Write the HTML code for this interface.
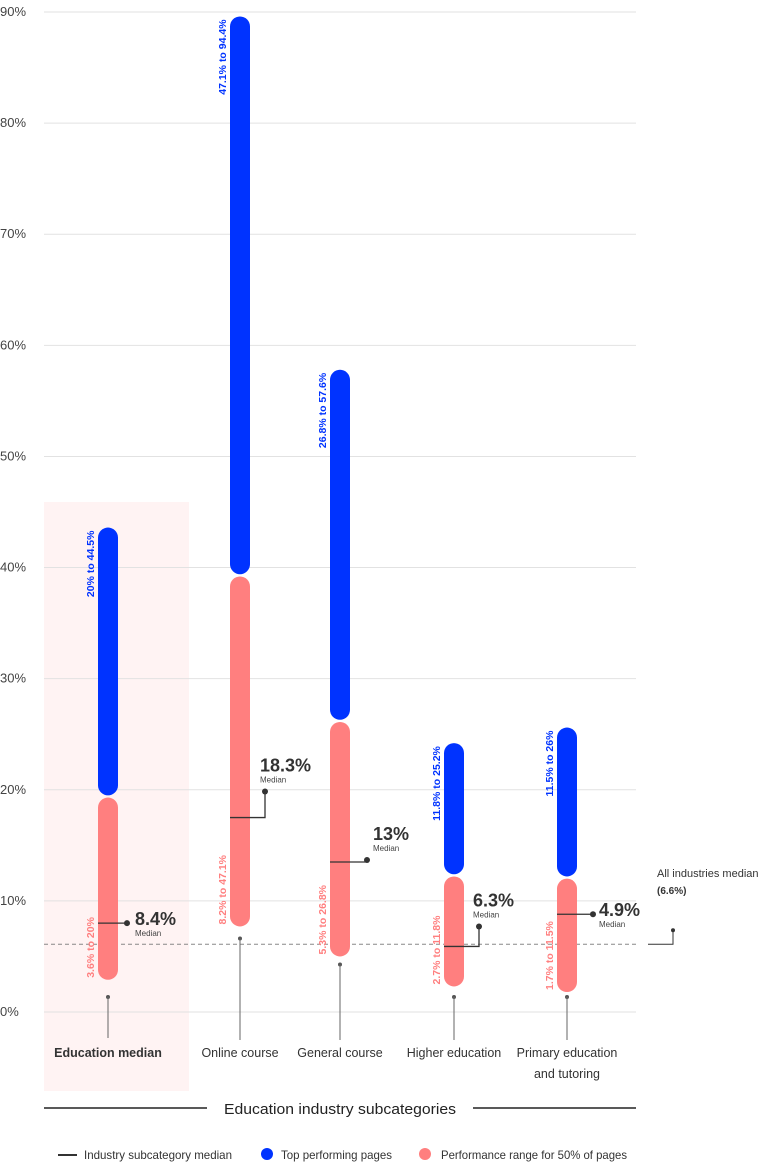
<!DOCTYPE html>
<html><head><meta charset="utf-8"><style>
html,body{margin:0;padding:0;background:#fff;}
svg{display:block;font-family:"Liberation Sans",sans-serif;}
</style></head><body>
<svg id="chart" width="764" height="1165" viewBox="0 0 764 1165" xmlns="http://www.w3.org/2000/svg">
<rect x="44" y="502" width="145" height="589" fill="#fff3f3"/>
<g id="grid"></g>
<g id="marks"></g>
<text x="340" y="1114" text-anchor="middle" font-size="15" fill="#222" textLength="232" lengthAdjust="spacingAndGlyphs">Education industry subcategories</text>
<line x1="44" y1="1108" x2="207" y2="1108" stroke="#222" stroke-width="1.5"/>
<line x1="473" y1="1108" x2="636" y2="1108" stroke="#222" stroke-width="1.5"/>
<g>
<line x1="58" y1="1155" x2="77" y2="1155" stroke="#333" stroke-width="2"/>
<text x="84" y="1159" font-size="12" fill="#333" textLength="148" lengthAdjust="spacingAndGlyphs">Industry subcategory median</text>
<circle cx="267" cy="1154" r="6" fill="#0033ff"/>
<text x="281" y="1159" font-size="12" fill="#333" textLength="111" lengthAdjust="spacingAndGlyphs">Top performing pages</text>
<circle cx="425" cy="1154" r="6" fill="#ff7f7f"/>
<text x="441" y="1159" font-size="12" fill="#333" textLength="186" lengthAdjust="spacingAndGlyphs">Performance range for 50% of pages</text>
</g>
</svg>
<script>
const categories = ["Education median","Online course","General course","Higher education","Primary education|and tutoring"];
const rangeLow = [2.9, 7.7, 5.0, 2.3, 1.8];
const rangeHigh = [19.3, 39.2, 26.1, 12.2, 12.0];
const topLow = [19.5, 39.4, 26.3, 12.4, 12.2];
const topHigh = [43.6, 89.6, 57.8, 24.2, 25.6];
const medians = [8.0, 17.5, 13.5, 5.9, 8.8];
const medianLabels = ["8.4%","18.3%","13%","6.3%","4.9%"];
const rangeLabels = ["3.6% to 20%","8.2% to 47.1%","5.3% to 26.8%","2.7% to 11.8%","1.7% to 11.5%"];
const topLabels = ["20% to 44.5%","47.1% to 94.4%","26.8% to 57.6%","11.8% to 25.2%","11.5% to 26%"];
const yTicks = [0,10,20,30,40,50,60,70,80,90];
const allMedian = 6.1;

const NS="http://www.w3.org/2000/svg";
const y = v => 1012 - v*11.111;
const xs = [108,240,340,454,567];
const x = i => xs[i];
function el(tag, attrs, parent, text){
  const e=document.createElementNS(NS,tag);
  for(const k in attrs) e.setAttribute(k,attrs[k]);
  if(text!==undefined) e.textContent=text;
  parent.appendChild(e); return e;
}
const grid=document.getElementById('grid'), marks=document.getElementById('marks');
yTicks.forEach(t=>{
  const l=el('line',{x1:44,x2:636,y1:y(t),y2:y(t),stroke:'#e2e2e2','stroke-width':1},grid);
  
  
  const tx=el('text',{x:0,y:y(t)+4,'font-size':13,fill:'#444'},grid,t+'%');
  
  
});
const dl=el('line',{x1:44,x2:636,y1:y(allMedian),y2:y(allMedian),stroke:'#888','stroke-width':1,'stroke-dasharray':'4 3'},grid);


const am=el('path',{d:`M648 ${y(allMedian)} H673 V${y(allMedian)-14}`,fill:'none',stroke:'#333','stroke-width':1},grid);


const ad=el('circle',{cx:673,cy:y(allMedian)-14,r:2,fill:'#333'},grid);


const at=el('text',{x:657,y:877,'font-size':11,fill:'#333'},grid,'All industries median');


const av=el('text',{x:657,y:894,'font-size':10,'font-weight':'bold',fill:'#333'},grid,'(6.6%)');



const medLayout = [
  {ex:127, ey:0, lx:135},
  {ex:265, ey:-26, lx:260},
  {ex:367, ey:-2, lx:373},
  {ex:479, ey:-20, lx:473},
  {ex:593, ey:0, lx:599}
];
categories.forEach((c,i)=>{
  const cx=x(i), w=20;
  const g=el('g',{},marks);
  
  
  const r=el('rect',{x:cx-w/2,y:y(rangeHigh[i]),width:w,height:y(rangeLow[i])-y(rangeHigh[i]),rx:10,fill:'#ff7f7f'},g);
  
  
  const b=el('rect',{x:cx-w/2,y:y(topHigh[i]),width:w,height:y(topLow[i])-y(topHigh[i]),rx:10,fill:'#0033ff'},g);
  
  
  const tl=el('text',{x:0,y:0,'font-size':10.5,'font-weight':'bold',fill:'#0033ff','text-anchor':'end',transform:`translate(${cx-14},${y(topHigh[i])+3}) rotate(-90)`},g,topLabels[i]);
  
  
  const rl=el('text',{x:0,y:0,'font-size':10.5,'font-weight':'bold',fill:'#ff7f7f','text-anchor':'start',transform:`translate(${cx-14},${y(rangeLow[i])-2}) rotate(-90)`},g,rangeLabels[i]);
  
  
  const L=medLayout[i], my=y(medians[i]), dy=my+L.ey;
  const ml=el('path',{d:`M${cx-10} ${my} H${L.ex} V${dy}`,fill:'none',stroke:'#333','stroke-width':1.3},g);
  
  
  const md=el('circle',{cx:L.ex,cy:dy,r:3,fill:'#333'},g);
  
  
  const ty = L.ey<0 ? dy-26 : dy-4;
  const mv=el('text',{x:L.lx,y:ty+6,'font-size':18,'font-weight':'bold',fill:'#333'},g,medianLabels[i]);
  
  
  const mt=el('text',{x:L.lx,y:ty+17,'font-size':8,fill:'#444'},g,'Median');
  
  
  const sTop = y(rangeLow[i])+ (i===2?8:i===0?38:12);
  const sd=el('circle',{cx:cx,cy:Math.min(sTop,997),r:2,fill:'#555'},g);
  
  
  const sl=el('line',{x1:cx,x2:cx,y1:Math.min(sTop,997),y2:i===0?1038:1040,stroke:'#666','stroke-width':1},g);
  
  
  c.split('|').forEach((line,j)=>{
    const t=el('text',{x:cx,y:1057+j*21,'font-size':12.5,'text-anchor':'middle',fill:'#333','font-weight':i===0?'bold':'normal'},g,line);
    
    
  });
});
</script>
</body></html>
